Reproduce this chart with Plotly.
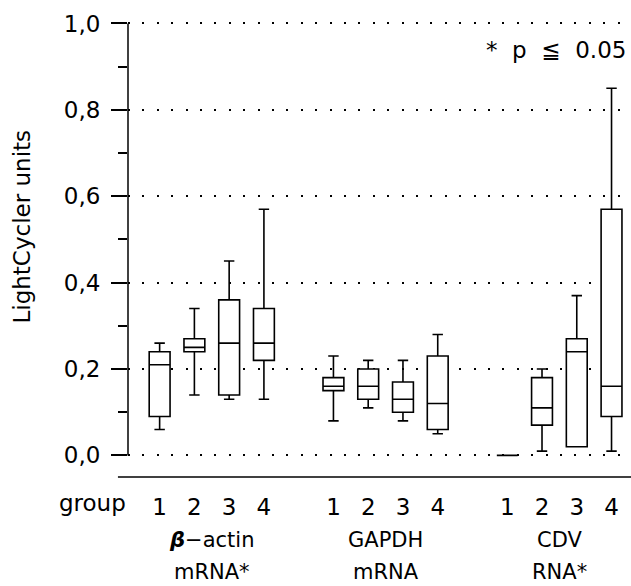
import plotly.graph_objects as go

# ---- data ----
group_labels = ["1", "2", "3", "4"]
targets = ["<b><i>β</i></b>−actin", "GAPDH", "CDV"]
targets_line2 = ["mRNA*", "mRNA", "RNA*"]

beta_lower = [0.06, 0.14, 0.13, 0.13]
beta_q1 = [0.09, 0.24, 0.14, 0.22]
beta_median = [0.21, 0.25, 0.26, 0.26]
beta_q3 = [0.24, 0.27, 0.36, 0.34]
beta_upper = [0.26, 0.34, 0.45, 0.57]

gapdh_lower = [0.08, 0.11, 0.08, 0.05]
gapdh_q1 = [0.15, 0.13, 0.10, 0.06]
gapdh_median = [0.16, 0.16, 0.13, 0.12]
gapdh_q3 = [0.18, 0.20, 0.17, 0.23]
gapdh_upper = [0.23, 0.22, 0.22, 0.28]

cdv_lower = [0.0, 0.01, 0.02, 0.01]
cdv_q1 = [0.0, 0.07, 0.02, 0.09]
cdv_median = [0.0, 0.11, 0.24, 0.16]
cdv_q3 = [0.0, 0.18, 0.27, 0.57]
cdv_upper = [0.0, 0.20, 0.37, 0.85]

y_ticks = [0.0, 0.2, 0.4, 0.6, 0.8, 1.0]
y_ticktext = ["0,0", "0,2", "0,4", "0,6", "0,8", "1,0"]
y_minor = [0.1, 0.3, 0.5, 0.7, 0.9]

FONT = "DejaVu Sans"
FS = 23
FS_CAT = 21

series = [
    (beta_lower, beta_q1, beta_median, beta_q3, beta_upper),
    (gapdh_lower, gapdh_q1, gapdh_median, gapdh_q3, gapdh_upper),
    (cdv_lower, cdv_q1, cdv_median, cdv_q3, cdv_upper),
]

GROUP_STEP = 5
fig = go.Figure()
all_pos = []
all_text = []
centers = []
for gi, (lo, q1, med, q3, hi) in enumerate(series):
    pos = [gi * GROUP_STEP + i for i in range(len(group_labels))]
    all_pos += pos
    all_text += group_labels
    centers.append(sum(pos) / len(pos))
    fig.add_trace(go.Box(
        x=pos, q1=q1, median=med, q3=q3, lowerfence=lo, upperfence=hi,
        width=0.6, whiskerwidth=0.5, boxpoints=False,
        line=dict(color="black", width=1.6), fillcolor="white",
        showlegend=False, hoverinfo="skip",
    ))

fig.update_layout(
    width=631, height=586,
    margin=dict(l=128, r=0, t=20, b=109),
    paper_bgcolor="white", plot_bgcolor="white",
    font=dict(family=FONT, size=FS, color="black"),
    xaxis=dict(
        range=[-0.91, 13.56], tickvals=all_pos, ticktext=all_text,
        showgrid=False, zeroline=False, showline=False, ticks="",
        tickfont=dict(family=FONT, size=FS), ticklabelstandoff=14,
    ),
    yaxis=dict(
        range=[-0.05, 1.008], tickvals=y_ticks, ticktext=y_ticktext,
        ticks="outside", ticklen=16, tickwidth=1.5, tickcolor="black",
        minor=dict(tickvals=y_minor, ticks="outside", ticklen=9, tickwidth=1.5,
                   tickcolor="black", showgrid=False),
        showgrid=True, gridcolor="black", gridwidth=2, griddash="2px,12.4px",
        zeroline=False, showline=False, ticklabelstandoff=6,
        tickfont=dict(family=FONT, size=FS),
    ),
)

# y axis line (0 to 1) and bottom baseline
fig.add_shape(type="line", xref="paper", yref="y", x0=0, x1=0, y0=0, y1=1.0,
              line=dict(color="black", width=1.5))
fig.add_shape(type="line", xref="paper", yref="paper", x0=-0.02, x1=1, y0=0, y1=0,
              line=dict(color="black", width=1.5))

# axis title
fig.add_annotation(text="LightCycler units", xref="paper", yref="paper",
                   x=-0.2097, y=0.547, textangle=-90, showarrow=False,
                   xanchor="center", yanchor="middle", font=dict(family=FONT, size=FS))
# "group" label
fig.add_annotation(text="group", xref="paper", yref="paper", x=0.0, y=-0.056,
                   xanchor="right", yanchor="middle", showarrow=False,
                   font=dict(family=FONT, size=FS))
# target labels
for c, t1, t2 in zip(centers, targets, targets_line2):
    fig.add_annotation(text=t1, xref="x", yref="paper", x=c, y=-0.138,
                       xanchor="center", yanchor="middle", showarrow=False,
                       font=dict(family=FONT, size=FS_CAT))
    fig.add_annotation(text=t2, xref="x", yref="paper", x=c, y=-0.208,
                       xanchor="center", yanchor="middle", showarrow=False,
                       font=dict(family=FONT, size=FS_CAT))
# significance note
fig.add_annotation(text="*  p  ≦  0.05", xref="paper", yref="paper", x=0.994, y=0.934,
                   xanchor="right", yanchor="middle", showarrow=False,
                   font=dict(family=FONT, size=FS))

fig.write_html("out.html")
